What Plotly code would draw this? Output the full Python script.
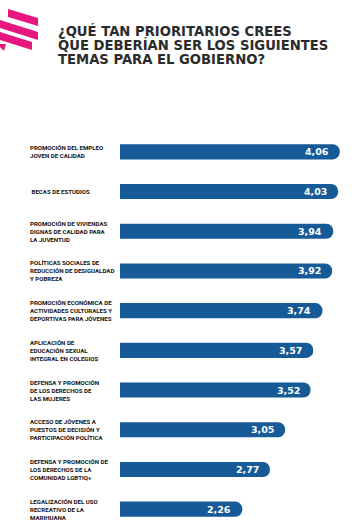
import plotly.graph_objects as go

categories = [
    "PROMOCIÓN DEL EMPLEO<br>JOVEN DE CALIDAD",
    " BECAS DE ESTUDIOS",
    "PROMOCIÓN DE VIVIENDAS<br>DIGNAS DE CALIDAD PARA<br>LA JUVENTUD",
    "POLÍTICAS SOCIALES DE<br>REDUCCIÓN DE DESIGUALDAD<br>Y POBREZA",
    "PROMOCIÓN ECONÓMICA DE<br>ACTIVIDADES CULTURALES Y<br>DEPORTIVAS PARA JÓVENES",
    "APLICACIÓN DE<br>EDUCACIÓN SEXUAL<br>INTEGRAL EN COLEGIOS",
    "DEFENSA Y PROMOCIÓN<br>DE LOS DERECHOS DE<br>LAS MUJERES",
    "ACCESO DE JÓVENES A<br>PUESTOS DE DECISIÓN Y<br>PARTICIPACIÓN POLÍTICA",
    "DEFENSA Y PROMOCIÓN DE<br>LOS DERECHOS DE LA<br>COMUNIDAD LGBTIQ+",
    "LEGALIZACIÓN DEL USO<br>RECREATIVO DE LA<br>MARIHUANA",
]
values = [4.06, 4.03, 3.94, 3.92, 3.74, 3.57, 3.52, 3.05, 2.77, 2.26]
value_labels = [f"{v:.2f}".replace(".", ",") for v in values]
title_lines = [
    "¿QUÉ TAN PRIORITARIOS CREES",
    "QUE DEBERÍAN SER LOS SIGUIENTES",
    "TEMAS PARA EL GOBIERNO?",
]

W, H = 356, 531
BLUE = "#175a98"
PINK = "#e8177f"

fig = go.Figure()
fig.add_trace(go.Bar(
    x=values,
    y=categories,
    orientation="h",
    marker=dict(color=BLUE, line=dict(width=0)),
    width=0.38,
    cliponaxis=False,
    hoverinfo="skip",
))

annotations = []
for c, v, lab in zip(categories, values, value_labels):
    annotations.append(dict(
        x=28 / W, xref="paper", y=c, yref="y",
        text=c, showarrow=False, xanchor="left", yanchor="middle", align="left",
        font=dict(family="Roboto, Arial", size=6.1, color="#111111", weight="bold"),
    ))
    annotations.append(dict(
        x=v, xref="x", y=c, yref="y", xshift=-9,
        text=lab, showarrow=False, xanchor="right", yanchor="middle",
        font=dict(family="DejaVu Sans, Arial", size=9.5, color="white", weight="bold"),
    ))
for i, t in enumerate(title_lines):
    annotations.append(dict(
        x=56 / W, xref="paper", y=1 - (31 + 14.1 * i) / H, yref="paper",
        text=t, showarrow=False, xanchor="left", yanchor="middle", align="left",
        font=dict(family="DejaVu Sans, Arial", size=13.2, color="#2b2b2b", weight="bold"),
    ))

def P(px, py):
    return f"{px / W},{1 - py / H}"

shapes = [
    dict(type="path", xref="paper", yref="paper", line=dict(width=0), fillcolor=PINK,
         path=f"M {P(8,9)} L {P(38,18)} L {P(38,26)} L {P(8,17)} Z"),
    dict(type="path", xref="paper", yref="paper", line=dict(width=0), fillcolor=PINK,
         path=f"M {P(0,20)} L {P(38,32)} L {P(38,40)} L {P(0,28)} Z"),
    dict(type="path", xref="paper", yref="paper", line=dict(width=0), fillcolor=PINK,
         path=f"M {P(0,32)} L {P(32,42)} L {P(32,50)} L {P(0,40)} Z"),
    dict(type="path", xref="paper", yref="paper", line=dict(width=0), fillcolor=PINK,
         path=f"M {P(0,44)} L {P(6,44)} L {P(4,51)} L {P(0,47)} Z"),
]

fig.update_layout(
    width=W, height=H,
    margin=dict(l=0, r=0, t=0, b=0),
    paper_bgcolor="white", plot_bgcolor="white",
    showlegend=False,
    barcornerradius=8,
    xaxis=dict(domain=[120 / W, 1], range=[0, 4.36], visible=False, fixedrange=True),
    yaxis=dict(domain=[1 - 529 / H, 1 - 132 / H], autorange="reversed",
               visible=False, fixedrange=True),
    annotations=annotations,
    shapes=shapes,
)

fig.write_html("out.html")
